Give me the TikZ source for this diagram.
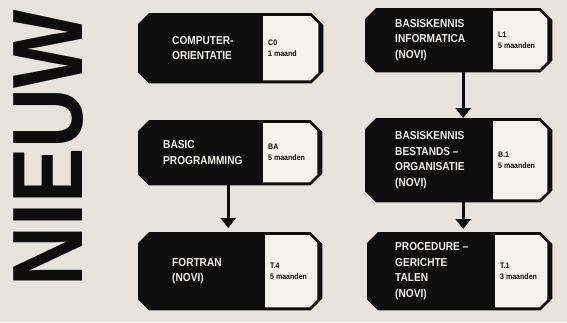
\documentclass[tikz,border=0pt]{standalone}
\usepackage{fontspec}
\usepackage{graphicx}
\setmainfont{Liberation Sans}
\newfontfamily\condfont{Liberation Sans}[FakeStretch=0.88]
\usetikzlibrary{arrows.meta}
\definecolor{bg}{RGB}{231,227,221}
\definecolor{ink}{RGB}{14,13,13}
\definecolor{paper}{RGB}{244,242,238}
\tikzset{
  boxfill/.style={fill=ink},
  panelfill/.style={fill=paper},
  maintext/.style={text=paper,font=\condfont\bfseries\fontsize{11.5}{15.5}\selectfont,align=left,inner sep=0pt,anchor=west},
  paneltext/.style={text=ink,font=\condfont\bfseries\fontsize{8}{11}\selectfont,align=left,inner sep=0pt,anchor=west},
  arr/.style={draw=ink,line width=3pt,-{Triangle[width=15pt,length=10pt]}}
}
% #1 name, #2 x1, #3 y1, #4 x2, #5 y2, #6 panel x, #7 text x, #8 main text, #9 panel text
\newcommand\course[9]{%
  \pgfmathsetmacro\cw{#4-#2}\pgfmathsetmacro\ch{#5-#3}%
  \node[inner sep=0pt,minimum width=\cw pt,minimum height=\ch pt,anchor=north west] (#1) at (#2,#3) {};
  \fill[boxfill] ([xshift=11pt]#1.north west) -- ([xshift=-12pt]#1.north east) -- ([yshift=-12pt]#1.north east)
     -- ([yshift=12pt]#1.south east) -- ([xshift=-12pt]#1.south east) -- ([xshift=11pt]#1.south west)
     -- ([yshift=11pt]#1.south west) -- ([yshift=-11pt]#1.north west) -- cycle;
  \pgfmathsetmacro\pw{#4-5-#6}\pgfmathsetmacro\ph{#5-#3-6}%
  \node[inner sep=0pt,minimum width=\pw pt,minimum height=\ph pt,anchor=north west] (#1p) at (#6,{#3+3}) {};
  \fill[panelfill] (#1p.north west) -- ([xshift=-8pt]#1p.north east) -- ([yshift=-8pt]#1p.north east)
     -- ([yshift=8pt]#1p.south east) -- ([xshift=-8pt]#1p.south east) -- (#1p.south west) -- cycle;
  \node[maintext] (#1t) at (#7,{(#3+#5)/2}) {#8};
  \node[paneltext] (#1q) at ([xshift=5pt]#1p.west) {#9};
}
\begin{document}
\begin{tikzpicture}[x=1pt,y=-1pt]
\fill[bg] (0,0) rectangle (567,322);
\useasboundingbox (0,0) rectangle (567,322);
\node[rotate=90,inner sep=0pt,text=ink,font=\bfseries\fontsize{100}{100}\selectfont] (nieuw) at (49,148.5) {\scalebox{0.83}[1]{NIEUW}};
\course{b1}{138}{13}{323}{83}{263}{172}{COMPUTER-\\ORIENTATIE}{C0\\1 maand}
\course{b2}{138}{120}{322}{185}{263}{163}{BASIC\\PROGRAMMING}{BA\\5 maanden}
\course{b3}{138}{232}{322}{310}{265}{172}{FORTRAN\\(NOVI)}{T.4\\5 maanden}
\course{b4}{365}{8}{552}{72}{493}{395}{BASISKENNIS\\INFORMATICA\\(NOVI)}{L1\\5 maanden}
\course{b5}{365}{118}{552}{202}{493}{395}{BASISKENNIS\\BESTANDS –\\ORGANISATIE\\(NOVI)}{B.1\\5 maanden}
\course{b6}{367}{232}{552}{310}{495}{395}{PROCEDURE –\\GERICHTE\\TALEN\\(NOVI)}{T.1\\3 maanden}
\draw[arr,shorten >=4pt] ([xshift=-2pt]b2.south) -- ([xshift=-2pt]b3.north);
\draw[arr] ([xshift=4.5pt]b4.south) -- ([xshift=4.5pt]b5.north);
\draw[arr,shorten >=3pt] ([xshift=4.5pt]b5.south) -- ([xshift=3.5pt]b6.north);
\end{tikzpicture}
\end{document}
